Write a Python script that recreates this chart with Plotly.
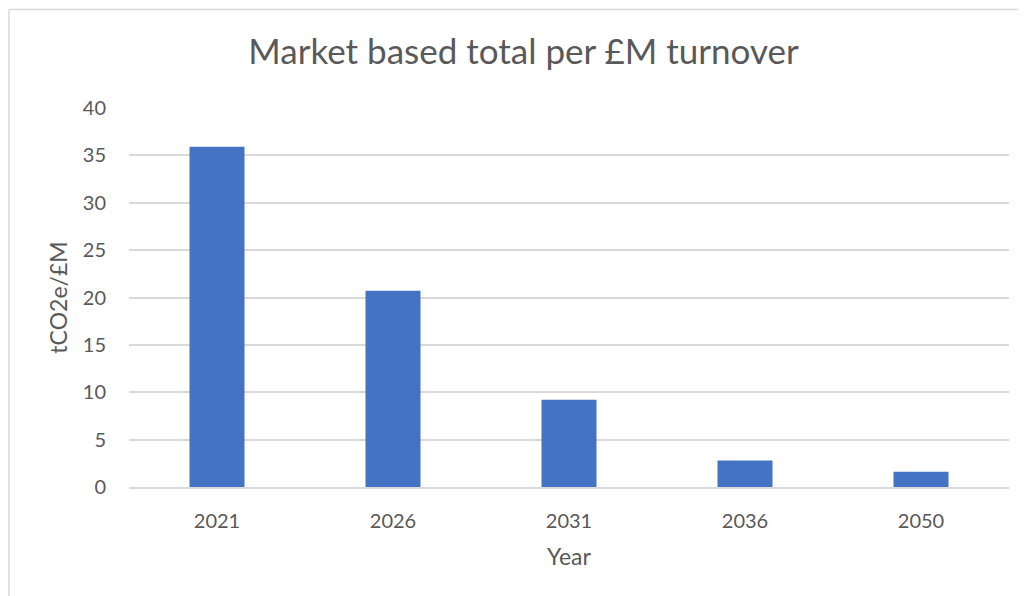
import plotly.graph_objects as go

years = ["2021", "2026", "2031", "2036", "2050"]
values = [35.9, 20.7, 9.2, 2.8, 1.6]
y_ticks = [0, 5, 10, 15, 20, 25, 30, 35, 40]

# page has an 8px body margin; figure is sized to fill the rest of the window
W, H = 1018, 588
L, R, T, B = 121, 17, 100, 109
pw, ph = W - L - R, H - T - B

txt = "#595959"
font = "Lato, 'Open Sans', sans-serif"

fig = go.Figure(go.Bar(x=years, y=values, marker=dict(color="#4472C4", line=dict(width=0)), width=0.3125))

fig.update_layout(
    width=W, height=H,
    margin=dict(l=L, r=R, t=T, b=B),
    paper_bgcolor="white", plot_bgcolor="white",
    font=dict(family=font, color=txt, size=20),
    title=dict(text="Market based total per £M turnover", x=515.5 / W, xanchor="center",
               xref="container",
               y=1 - 44 / H, yanchor="middle", font=dict(size=35, color=txt, family=font)),
    showlegend=False,
    xaxis=dict(type="category", showgrid=False, showline=True, linecolor="#D9D9D9", linewidth=1.5,
               ticks="", tickfont=dict(size=20, color=txt), ticklabelstandoff=15,
               title=dict(text="Year", font=dict(size=23, color=txt), standoff=18)),
    yaxis=dict(range=[0, 40], tickvals=y_ticks, showgrid=True, gridcolor="#D9D9D9", gridwidth=1.5,
               zeroline=False, showline=False, ticks="", tickfont=dict(size=20, color=txt),
               ticklabelstandoff=22,
               title=dict(text="tCO2e/£M", font=dict(size=23, color=txt), standoff=8)),
)

# chart border (left and top edges visible)
bx0 = (1 - L) / pw
by1 = 1 + (T - 1.5) / ph
fig.add_shape(type="line", xref="paper", yref="paper", x0=bx0, x1=bx0, y0=by1, y1=-(B + 20) / ph,
              line=dict(color="#D9D9D9", width=1.5))
fig.add_shape(type="line", xref="paper", yref="paper", x0=bx0, x1=1 + (R + 20) / pw, y0=by1, y1=by1,
              line=dict(color="#D9D9D9", width=1.5))

fig.write_html("out.html")
